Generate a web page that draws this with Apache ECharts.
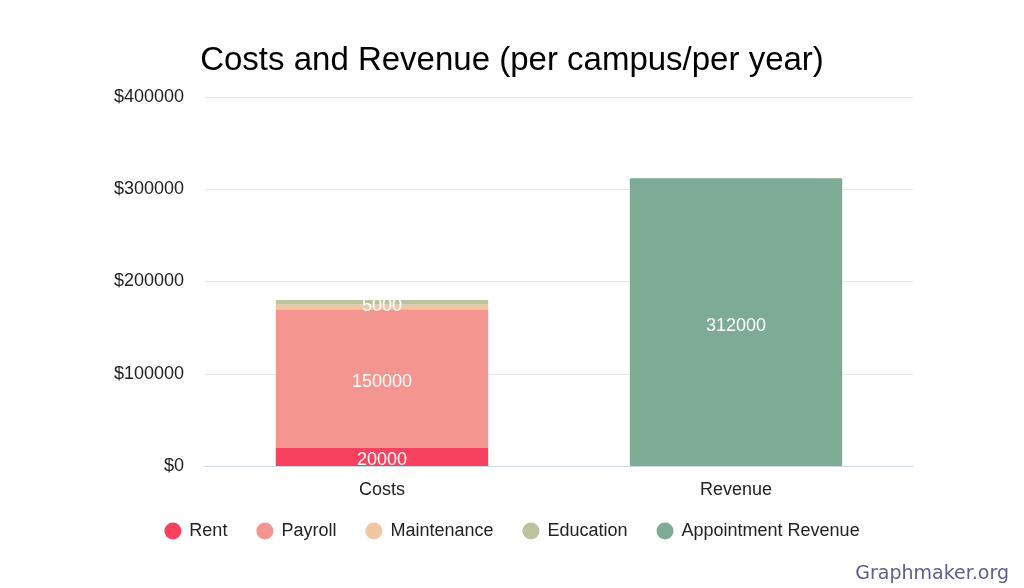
<!DOCTYPE html>
<html>
<head>
<meta charset="utf-8">
<script src="https://cdn.jsdelivr.net/npm/echarts@6/dist/echarts.min.js"></script>
<style>
  html, body { margin: 0; padding: 0; background: #fff; }
  #main { width: 1024px; height: 588px; }
</style>
</head>
<body>
<div id="main"></div>
<script>
const categories = ['Costs', 'Revenue']
const rent = [20000, null]
const payroll = [150000, null]
const maintenance = [5000, null]
const education = [5000, null]
const appointmentRevenue = [null, 312000]
const yTicks = [0, 100000, 200000, 300000, 400000]

const chartDom = document.getElementById('main')
const myChart = echarts.init(chartDom)

const font = 'Liberation Sans, Arial, sans-serif'

function barSeries (name, data, color, showLabel, dy) {
    return {
        name,
        type: 'bar',
        stack: 'total',
        data,
        barWidth: '60%',
        itemStyle: { color },
        label: {
            show: showLabel,
            position: 'inside',
            offset: [0, dy || 0],
            color: '#fff',
            fontSize: 18,
            fontFamily: font
        }
    }
}

const option = {
    animation: false,
    color: ['#f7415f', '#f4968f', '#f2c6a1', '#bec39f', '#7eab95'],
    title: {
        text: 'Costs and Revenue (per campus/per year)',
        left: 'center',
        top: 39,
        textStyle: {
            fontSize: 33,
            fontWeight: 'normal',
            color: '#000',
            fontFamily: font
        }
    },
    legend: {
        bottom: 43,
        left: 'center',
        icon: 'circle',
        itemWidth: 17,
        itemHeight: 17,
        itemGap: 29,
        textStyle: { fontSize: 18, color: '#222', fontFamily: font, padding: [0, 0, 0, 3] }
    },
    grid: {
        left: 205,
        right: 111,
        top: 97,
        bottom: 122
    },
    xAxis: {
        type: 'category',
        data: categories,
        axisTick: { show: false },
        axisLine: { lineStyle: { color: '#ccd6eb' } },
        axisLabel: { fontSize: 18, color: '#222', margin: 15, fontFamily: font }
    },
    yAxis: {
        type: 'value',
        min: yTicks[0],
        max: yTicks[yTicks.length - 1],
        interval: 100000,
        splitLine: { lineStyle: { color: '#e6e6e6' } },
        axisLabel: {
            fontSize: 18,
            color: '#222',
            margin: 21,
            fontFamily: font,
            formatter: v => '$' + v
        }
    },
    graphic: [
        {
            type: 'text',
            right: 15,
            bottom: 4,
            style: {
                text: 'Graphmaker.org',
                fontSize: 19,
                fill: '#5c5f8c',
                fontFamily: 'DejaVu Sans, Verdana, sans-serif'
            }
        }
    ],
    series: [
        barSeries('Rent', rent, '#f7415f', true, 3),
        barSeries('Payroll', payroll, '#f4968f', true, 4),
        barSeries('Maintenance', maintenance, '#f2c6a1', true, -1),
        barSeries('Education', education, '#bec39f', false),
        barSeries('Appointment Revenue', appointmentRevenue, '#7eab95', true, 4)
    ]
}

myChart.setOption(option)
</script>
</body>
</html>
